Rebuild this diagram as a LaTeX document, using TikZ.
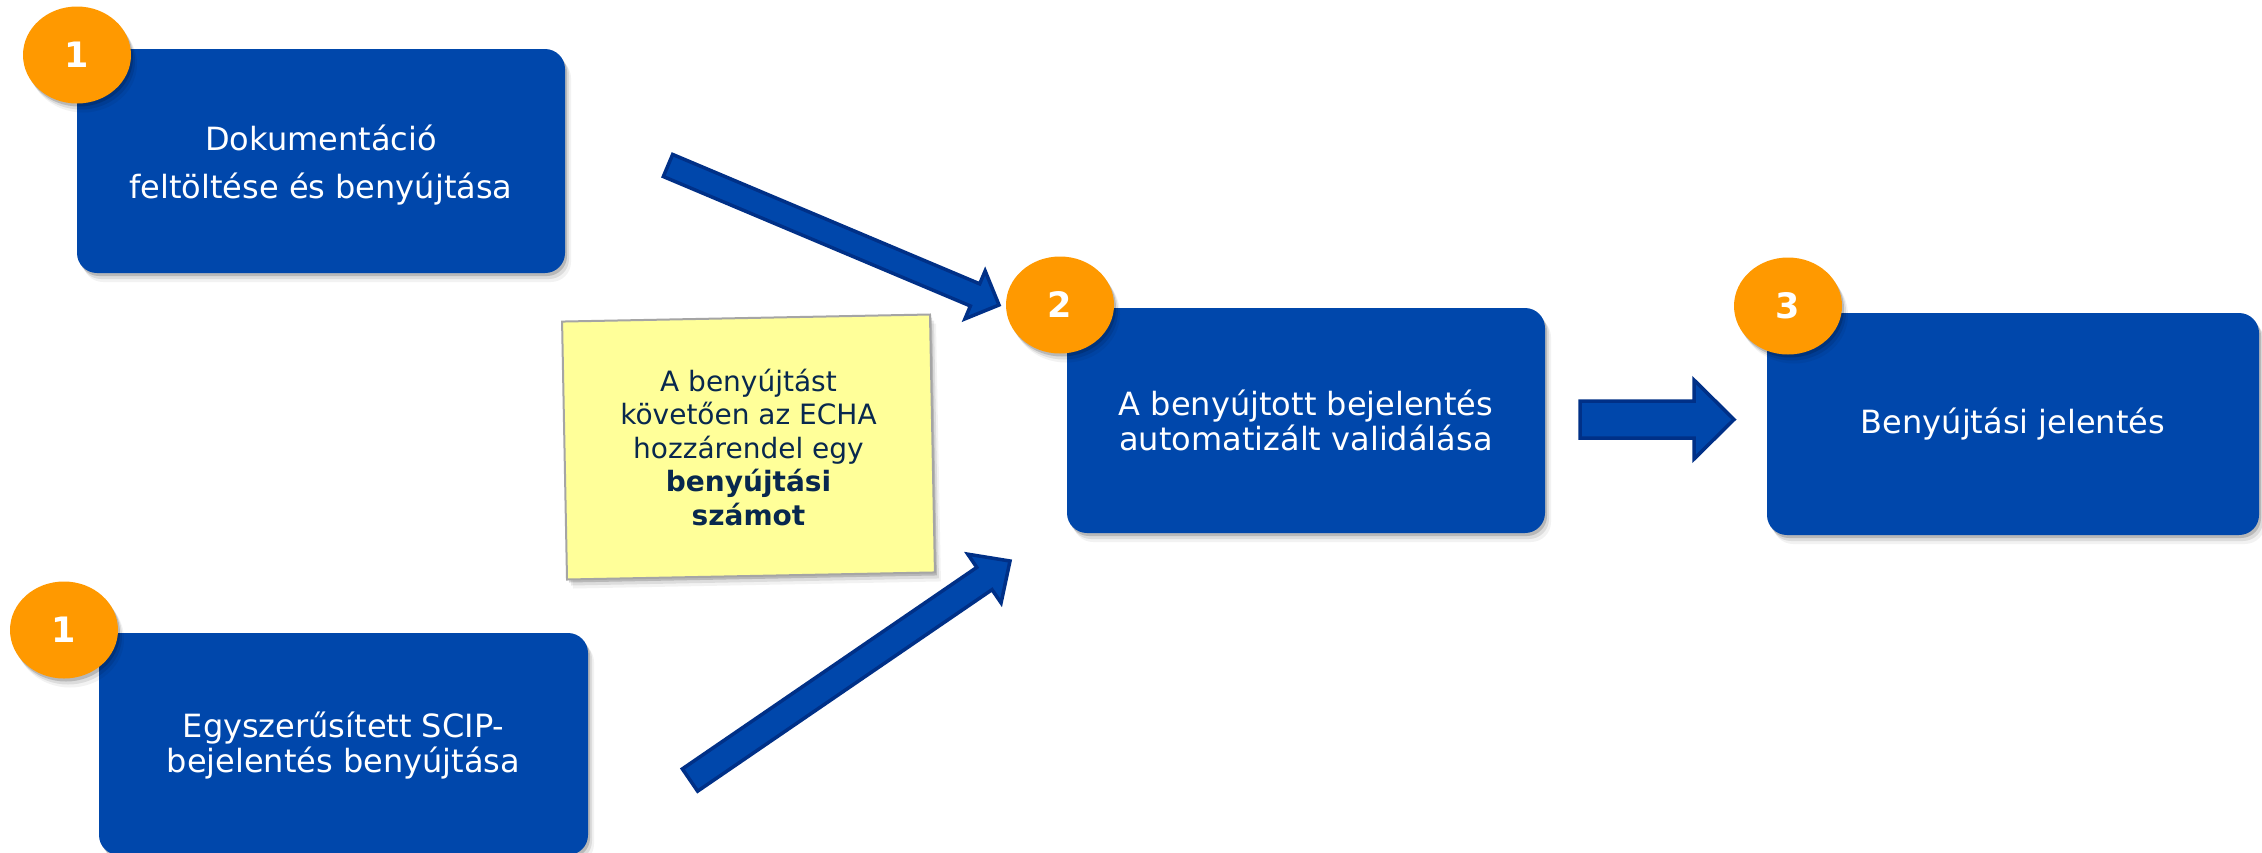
\documentclass[tikz,border=0pt]{standalone}
\usepackage{fontspec}
\setmainfont{DejaVu Sans}
\usetikzlibrary{shapes.geometric,shadows,calc}
\definecolor{boxblue}{RGB}{0,71,171}
\definecolor{arrowedge}{RGB}{0,48,135}
\definecolor{badgeorange}{RGB}{255,153,0}
\definecolor{notefill}{RGB}{255,255,153}
\definecolor{noteedge}{RGB}{165,165,165}
\definecolor{notetext}{RGB}{8,40,78}
\tikzset{
  softshadow/.style={
    drop shadow={shadow xshift=2pt,shadow yshift=-3pt,opacity=0.16,fill=black},
    drop shadow={shadow xshift=4pt,shadow yshift=-6pt,opacity=0.09,fill=black},
    drop shadow={shadow xshift=6pt,shadow yshift=-9pt,opacity=0.05,fill=black}},
  stepbox/.style={rectangle, fill=boxblue, rounded corners=20pt, text=white,
    align=center, inner sep=0pt, font=\fontsize{32}{35}\selectfont, softshadow},
  badgenode/.style={ellipse, fill=badgeorange, minimum width=108pt, minimum height=97pt,
    inner sep=0pt, text=white, font=\bfseries\fontsize{35}{40}\selectfont, softshadow},
  notebox/.style={rectangle, draw=noteedge, line width=2pt, fill=notefill,
    minimum width=368pt, minimum height=258pt, inner sep=0pt, rotate=1.1, softshadow},
  notetextstyle/.style={text=notetext, align=center, inner sep=0pt,
    font=\fontsize{28}{33.5}\selectfont},
  blockarrowstyle/.style={fill=boxblue, draw=arrowedge, line width=3.5pt, line join=miter}
}
\newcommand\myblockarrow[5]{%
  \coordinate (hbase) at ($(#2)!#5!(#1)$);
  \filldraw[blockarrowstyle]
    ($(#1)!#3!90:(#2)$) -- ($(hbase)!#3!-90:(#1)$) -- ($(hbase)!#4!-90:(#1)$) -- (#2)
    -- ($(hbase)!#4!90:(#1)$) -- ($(hbase)!#3!90:(#1)$) -- ($(#1)!#3!-90:(#2)$) -- cycle;
}
\begin{document}
\begin{tikzpicture}[x=1pt,y=-1pt]
\useasboundingbox (0,0) rectangle (2262,852);
\fill[white] (0,0) rectangle (2262,852);

% boxes
\node[stepbox, minimum width=488pt, minimum height=224pt,
      font=\fontsize{32}{48}\selectfont] (b1) at (321,161)
  {\rule{0pt}{34pt}Dokumentáció\\feltöltése és benyújtása};
\node[stepbox, minimum width=489pt, minimum height=222pt] (b1b) at (343.5,744)
  {\rule{0pt}{28pt}Egyszerűsített SCIP-\\bejelentés benyújtása};
\node[stepbox, minimum width=478pt, minimum height=225pt] (b2) at (1306,420.5)
  {A benyújtott bejelentés\\automatizált validálása};
\node[stepbox, minimum width=492pt, minimum height=222pt] (b3) at (2013,424)
  {Benyújtási jelentés};

% badges
\node[badgenode] (c1) at (77,55) {1};
\node[badgenode] (c1b) at (64,630) {1};
\node[badgenode] (c2) at (1060,305) {2};
\node[badgenode] (c3) at (1788,306) {3};

% note
\node[notebox] (notebg) at (748.5,447) {};
\node[notetextstyle] (note) at (notebg.center)
  {A benyújtást\\követően az ECHA\\hozzárendel egy\\\textbf{benyújtási}\\\textbf{számot}};

% block arrows
\coordinate (a1tail) at (668,165.5);
\coordinate (a1tip) at (999,305);
\coordinate (a2tail) at (690,780);
\coordinate (a2tip) at (1010,561);
\coordinate (a3tail) at (1580,419.5);
\coordinate (a3tip) at (1734,419.5);
\myblockarrow{a1tail}{a1tip}{12pt}{26pt}{26pt}
\myblockarrow{a2tail}{a2tip}{13.5pt}{29.5pt}{31pt}
\myblockarrow{a3tail}{a3tip}{18.5pt}{39.5pt}{40pt}
\end{tikzpicture}
\end{document}
